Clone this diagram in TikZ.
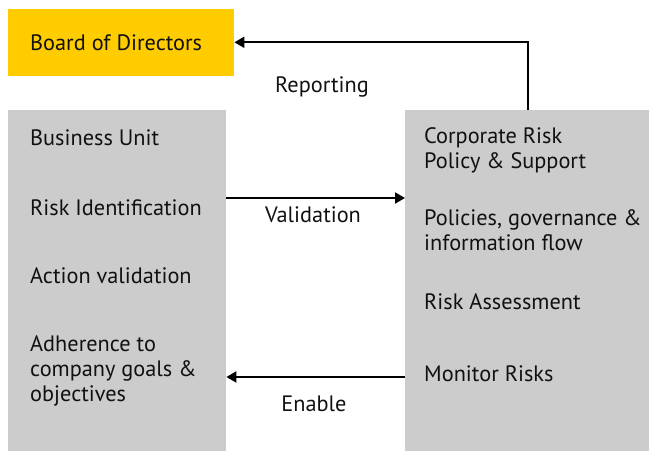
\documentclass[tikz,border=0pt]{standalone}
\usepackage{fontspec}
\setmainfont{PT Sans}
\usetikzlibrary{arrows.meta,positioning}

\definecolor{boardyellow}{HTML}{FFCC00}
\definecolor{panelgrey}{HTML}{CCCCCC}
\definecolor{inkdark}{HTML}{111111}

\begin{document}
\begin{tikzpicture}[
    x=1pt, y=1pt,
    font=\fontsize{22.3}{25}\selectfont,
    text=inkdark,
    panel/.style={rectangle, fill=panelgrey, anchor=south west, inner sep=0pt},
    board/.style={rectangle, fill=boardyellow, anchor=south west, inner sep=0pt},
    item/.style={anchor=west, inner sep=0pt, align=left},
    flowlabel/.style={inner sep=0pt},
    arrow/.style={line width=2pt, draw=black, -{Triangle[length=10pt,width=11pt]}}
]
\useasboundingbox (0,0) rectangle (649,451);

% Board box
\node[board, minimum width=226pt, minimum height=67pt] (board) at (8,375) {};
\node[item] (boardtxt) at (30,408) {Board of Directors};

% Two grey panels
\node[panel, minimum width=218pt, minimum height=341pt] (unit) at (8,0) {};
\node[panel, minimum width=244pt, minimum height=341pt] (policy) at (405,0) {};

% Business unit side
\node[item] (u1) at (30,313) {Business Unit};
\node[item] (u2) at (30,243) {Risk Identification};
\node[item] (u3) at (30,175) {Action validation};
\node[item] (u4) at (30,80) {Adherence to\\company goals \&\\objectives};

% Corporate side
\node[item] (p1) at (424,300.5) {Corporate Risk\\Policy \& Support};
\node[item] (p2) at (424,220.5) {Policies, governance \&\\information flow};
\node[item] (p3) at (424,149) {Risk Assessment};
\node[item] (p4) at (424,77) {Monitor Risks};

% Connections
\coordinate (rep) at (528,0);
\coordinate (val) at (0,253);
\coordinate (en) at (0,74);
\draw[arrow] (policy.north -| rep) |- (board.east);
\draw[arrow] (unit.east |- val) -- (policy.west |- val);
\draw[arrow] (policy.west |- en) -- (unit.east |- en);

% Flow labels
\node[flowlabel] (replbl) at (322,364) {Reporting};
\node[flowlabel] (vallbl) at (313,236) {Validation};
\node[flowlabel] (enlbl) at (314,47) {Enable};

\end{tikzpicture}
\end{document}
